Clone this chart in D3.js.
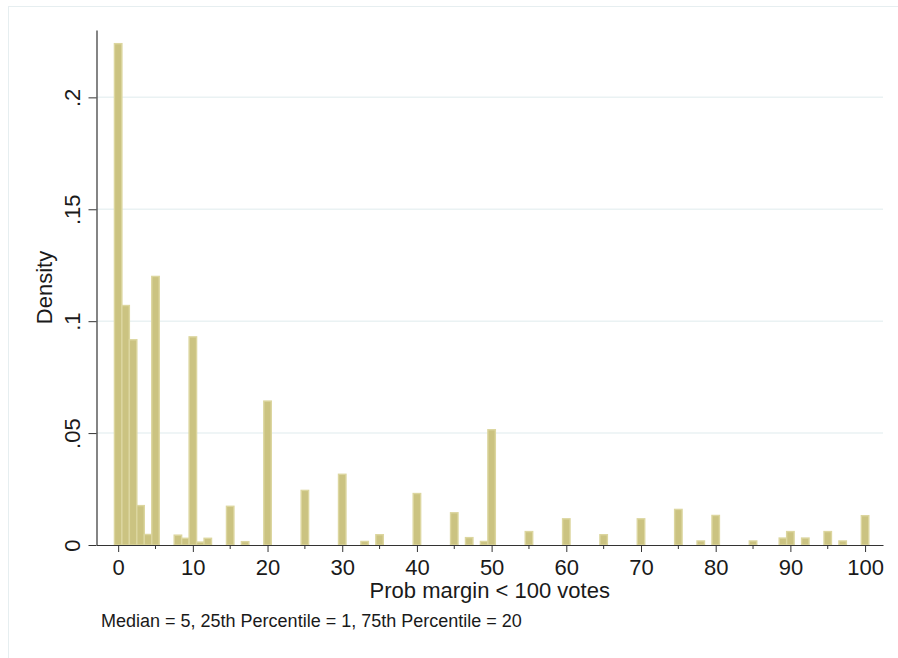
<!DOCTYPE html>
<meta charset="utf-8">
<script src="https://d3js.org/d3.v7.min.js"></script>
<style>
  body { margin: 0; background: #fff; font-family: "Liberation Sans", Arial, sans-serif; }
  .axis text { font-family: "Liberation Sans", Arial, sans-serif; fill: #1a1a1a; }
  .axis line { stroke: #333; }
</style>
<div id="chart"></div>
<script>
  // margin values (x) and their density
  var margins = [0, 1, 2, 3, 4, 5, 8, 9, 10, 11, 12, 15, 17, 20, 25, 30, 33, 35, 40, 45, 47, 49, 50,
    55, 60, 65, 70, 75, 78, 80, 85, 89, 90, 92, 95, 97, 100];
  var density = [0.224, 0.107, 0.0917, 0.0176, 0.0047, 0.120, 0.0044, 0.003, 0.093, 0.0013, 0.003,
    0.0173, 0.0015, 0.0643, 0.0244, 0.0316, 0.0016, 0.0046, 0.023, 0.0144, 0.0033, 0.0016, 0.0515,
    0.006, 0.0117, 0.0046, 0.0117, 0.0159, 0.0018, 0.0132, 0.0018, 0.0031, 0.006, 0.0031, 0.006, 0.0018, 0.0131];
  var xMajor = [0, 10, 20, 30, 40, 50, 60, 70, 80, 90, 100];
  var xMinor = [5, 15, 25, 35, 45, 55, 65, 75, 85, 95];
  var yTicks = [0, 0.05, 0.1, 0.15, 0.2];
  var yLabels = ["0", ".05", ".1", ".15", ".2"];

  var W = 898, H = 658;
  var plotLeft = 96.5, plotRight = 883, plotTop = 30, plotBottom = 545;

  var svg = d3.select("#chart").append("svg")
    .attr("width", W)
    .attr("height", H);

  // outer frame
  svg.append("rect")
    .attr("x", 8.5).attr("y", 6.5)
    .attr("width", 900).attr("height", 700)
    .attr("fill", "#fff")
    .attr("stroke", "#e6eef0")
    .attr("stroke-width", 1);

  var x = d3.scaleLinear().domain([-2.9, 102.4]).range([plotLeft, plotRight]);
  var y = d3.scaleLinear().domain([0, 0.2301]).range([plotBottom, plotTop]);

  // grid lines
  svg.append("g").selectAll("line")
    .data(yTicks.slice(1))
    .enter().append("line")
    .attr("x1", plotLeft).attr("x2", plotRight)
    .attr("y1", function (d) { return y(d); })
    .attr("y2", function (d) { return y(d); })
    .attr("stroke", "#eaf2f3")
    .attr("stroke-width", 1.5);

  // bars
  var bw = x(1) - x(0);
  svg.append("g").selectAll("rect")
    .data(margins)
    .enter().append("rect")
    .attr("x", function (d) { return x(d - 0.5); })
    .attr("width", bw)
    .attr("y", function (d, i) { return y(density[i]); })
    .attr("height", function (d, i) { return plotBottom - y(density[i]); })
    .attr("fill", "#cbc381")
    .attr("stroke", "#dcd69f")
    .attr("stroke-width", 1.4);

  // y axis
  var yAxis = svg.append("g")
    .attr("class", "axis")
    .attr("transform", "translate(" + plotLeft + ",0)")
    .call(d3.axisLeft(y).tickValues(yTicks).tickSize(8).tickSizeOuter(0)
      .tickFormat(function (d, i) { return yLabels[i]; }));
  yAxis.select(".domain").attr("stroke", "#333").attr("stroke-width", 1.2);
  yAxis.selectAll(".tick text")
    .style("font-size", "22px")
    .attr("text-anchor", "middle")
    .attr("transform", "rotate(-90)")
    .attr("x", 0)
    .attr("y", -16.5)
    .attr("dy", "0");

  // x axis
  var xAxis = svg.append("g")
    .attr("class", "axis")
    .attr("transform", "translate(0," + plotBottom + ")")
    .call(d3.axisBottom(x).tickValues(xMajor).tickSize(7).tickSizeOuter(0));
  xAxis.select(".domain").attr("stroke", "#333").attr("stroke-width", 1.2);
  xAxis.selectAll(".tick text")
    .style("font-size", "22px")
    .attr("y", 30)
    .attr("dy", "0");

  svg.append("g").selectAll("line")
    .data(xMinor)
    .enter().append("line")
    .attr("x1", function (d) { return x(d); })
    .attr("x2", function (d) { return x(d); })
    .attr("y1", plotBottom).attr("y2", plotBottom + 4)
    .attr("stroke", "#333");

  // titles
  svg.append("text")
    .attr("x", (plotLeft + plotRight) / 2)
    .attr("y", 598)
    .attr("text-anchor", "middle")
    .style("font-size", "22px")
    .attr("fill", "#1a1a1a")
    .text("Prob margin < 100 votes");

  svg.append("text")
    .attr("transform", "translate(52," + ((plotTop + plotBottom) / 2) + ")rotate(-90)")
    .attr("text-anchor", "middle")
    .style("font-size", "22px")
    .attr("fill", "#1a1a1a")
    .text("Density");

  svg.append("text")
    .attr("x", 101)
    .attr("y", 627)
    .style("font-size", "18px")
    .attr("fill", "#1a1a1a")
    .text("Median = 5, 25th Percentile = 1, 75th Percentile = 20");
</script>
